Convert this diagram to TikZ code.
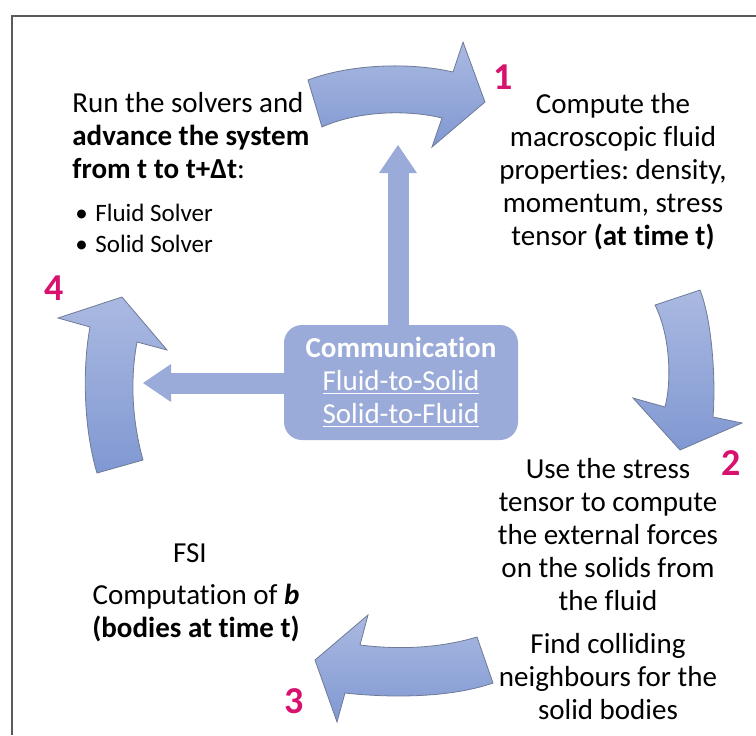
\documentclass[tikz,border=0pt]{standalone}
\usepackage{fontspec}
\setmainfont{Carlito}[Ligatures=NoCommon]
\usetikzlibrary{arrows.meta,positioning}
\definecolor{flow}{HTML}{9BABD9}
\definecolor{flowtop}{HTML}{AAB9E1}
\definecolor{flowbot}{HTML}{8098D2}
\definecolor{flowedge}{HTML}{6E7A96}
\definecolor{stepnum}{HTML}{D8106E}
\definecolor{ink}{HTML}{000000}
\definecolor{framegray}{HTML}{5A5A5A}
\frenchspacing
\tikzset{
  every node/.style={font=\fontsize{14.5}{16.5}\selectfont,text=ink,inner sep=0pt},
  txt/.style={align=center},
  bullets/.style={align=left,font=\fontsize{12.5}{15.5}\selectfont},
  numlabel/.style={font=\fontsize{19}{22}\selectfont\bfseries,text=stepnum},
  hub/.style={fill=flow,rounded corners=9pt,minimum width=117pt,minimum height=57.5pt,text=white,align=center},
  curved/.style={draw=flowedge,line width=0.4pt,top color=flowtop,bottom color=flowbot},
  fatarrow/.style={draw=flow,line width=10.5pt,-{Triangle[length=14pt,width=19pt,line width=0pt]}},
}

\begin{document}
\begin{tikzpicture}[x=0.5pt,y=-0.5pt]
\useasboundingbox (0,0) rectangle (756,735);

% frame
\draw[framegray,line width=0.75pt] (12,735) |- (756,16);

% curved step arrows
\path[curved] (308,80) .. controls (350,64) and (410,62) .. (453,72) -- (463,42) -- (485,102) -- (432,147) -- (442,118) .. controls (410,110) and (360,110) .. (322,127) -- cycle;
\path[curved] (655,305) -- (700,290) .. controls (712,320) and (716,380) .. (713,417) -- (742,423) -- (680,450) -- (633,398) -- (665,407) .. controls (672,380) and (670,335) .. (655,305) -- cycle;
\path[curved] (477,637) .. controls (440,648) and (400,650) .. (360,645) -- (368,615) -- (315,660) -- (337,722) -- (345,693) .. controls (390,698) and (450,698) .. (493,683) -- cycle;
\path[curved] (143,460) .. controls (132,420) and (130,380) .. (137,342) -- (167,350) -- (122,297) -- (58,318) -- (90,327) .. controls (82,370) and (84,430) .. (97,473) -- cycle;

% step numbers
\node[numlabel] (n1) at (503,77) {1};
\node[numlabel] (n2) at (731,463) {2};
\node[numlabel] (n3) at (294,701) {3};
\node[numlabel] (n4) at (54,288) {4};

% step texts
\node[txt,anchor=west,align=left] (runsolver) at (72,136) {Run the solvers and\\\textbf{advance the system}\\\textbf{from t to t+Δt}:};
\node[bullets,anchor=west] (solvers) at (75,228) {\makebox[10pt][l]{•}Fluid Solver\\\makebox[10pt][l]{•}Solid Solver};
\node[txt] (compute) at (613,172) {Compute the\\macroscopic fluid\\properties: density,\\momentum, stress\\tensor \textbf{(at time t)}};
\node[txt] (forces) at (608,535) {Use the stress\\tensor to compute\\the external forces\\on the solids from\\the fluid};
\node[txt] (collide) at (608,677) {Find colliding\\neighbours for the\\solid bodies};
\node[txt] (fsi) at (190,553) {FSI};
\node[txt] (compb) at (196,613) {Computation of \textbf{\textit{b}}\\\textbf{(bodies at time t)}};

% communication hub
\node[hub] (comm) at (401,382.5) {\textbf{Communication}\\\underline{Fluid-to-Solid}\\\underline{Solid-to-Fluid}};
\coordinate (uptip) at (398,145);
\coordinate (lefttip) at (143,383);
\draw[fatarrow] (comm.north -| uptip) -- (uptip);
\draw[fatarrow] (comm.west |- lefttip) -- (lefttip);

\end{tikzpicture}
\end{document}
